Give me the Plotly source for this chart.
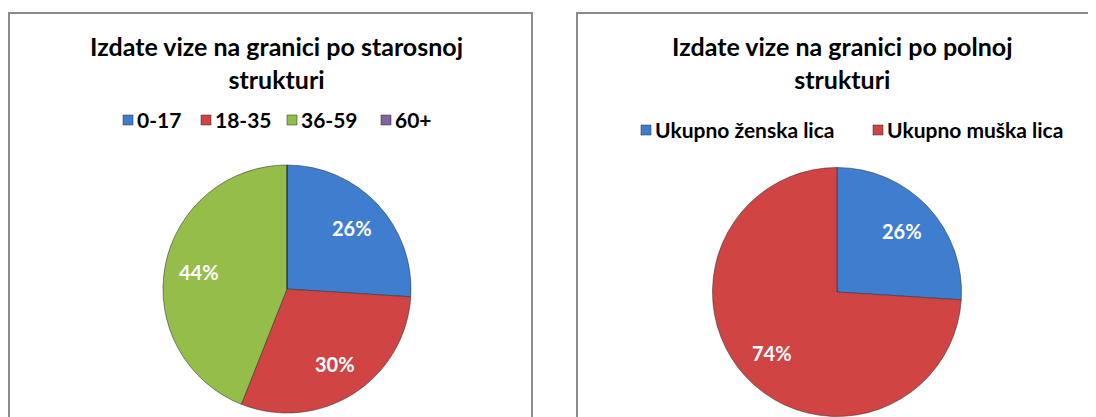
import math
import plotly.graph_objects as go

# page body has an 8px margin; compensate so that positions match the 1096x417 view
OFF = 8
W, H = 1096 - OFF, 417 - OFF

age_labels = ["0-17", "18-35", "36-59", "60+"]
age_values = [26, 30, 44, 0]
age_colors = ["#3F7ECF", "#D04444", "#94BD4A", "#8064A2"]

sex_labels = ["Ukupno ženska lica", "Ukupno muška lica"]
sex_values = [26, 74]
sex_colors = ["#3F7ECF", "#D04444"]

title_left = "Izdate vize na granici po starosnoj<br>strukturi"
title_right = "Izdate vize na granici po polnoj<br>strukturi"

FONT = "Lato, Calibri, Carlito, sans-serif"


def px(x):
    return (x - OFF) / W


def py(y):
    return 1 - (y - OFF) / H


# pie geometry (layout, in view pixels): centre x, centre y, radius
LEFT_PIE = (287, 289, 124)
RIGHT_PIE = (837, 292, 124.5)
LABEL_R = 0.72

fig = go.Figure()
annotations = []


def add_pie(labels, values, colors, geom):
    cx, cy, r = geom
    fig.add_trace(go.Pie(
        labels=labels, values=values, sort=False, direction="clockwise", rotation=0,
        marker=dict(colors=colors, line=dict(color="rgba(50,50,50,0.55)", width=1)),
        textinfo="none", showlegend=False, hoverinfo="label+percent",
        domain=dict(x=[px(cx - r), px(cx + r)], y=[py(cy + r), py(cy - r)]),
    ))
    total = sum(values)
    cum = 0
    for v in values:
        if v > 0:
            mid = (cum + v / 2) / total * 2 * math.pi
            lx = cx + LABEL_R * r * math.sin(mid)
            ly = cy - LABEL_R * r * math.cos(mid)
            annotations.append(dict(
                text=f"{round(v / total * 100)}%", x=px(lx), y=py(ly), xref="paper", yref="paper",
                showarrow=False, xanchor="center", yanchor="middle",
                font=dict(family=FONT, size=20, color="white", weight="bold")))
        cum += v


add_pie(age_labels, age_values, age_colors, LEFT_PIE)
add_pie(sex_labels, sex_values, sex_colors, RIGHT_PIE)

border = dict(color="#8C8C8C", width=2)
shapes = [
    dict(type="line", xref="paper", yref="paper", x0=px(9), x1=px(9), y0=py(13), y1=-0.1, line=border),
    dict(type="line", xref="paper", yref="paper", x0=px(8), x1=px(533), y0=py(13), y1=py(13), line=border),
    dict(type="line", xref="paper", yref="paper", x0=px(532), x1=px(532), y0=py(13), y1=-0.1, line=border),
    dict(type="line", xref="paper", yref="paper", x0=px(577), x1=px(577), y0=py(13), y1=-0.1, line=border),
    dict(type="line", xref="paper", yref="paper", x0=px(576), x1=1.05, y0=py(13), y1=py(13), line=border),
]

title_font = dict(family=FONT, size=25, color="#000000", weight="bold")
annotations += [
    dict(text=title_left, x=px(276), y=py(62), xref="paper", yref="paper", showarrow=False,
         xanchor="center", yanchor="middle", align="center", font=title_font),
    dict(text=title_right, x=px(842), y=py(62), xref="paper", yref="paper", showarrow=False,
         xanchor="center", yanchor="middle", align="center", font=title_font),
]

# legends (layout positions of the key squares, in view pixels)
legend_font = dict(family=FONT, size=21, color="#000000", weight="bold")
LEFT_LEG_X = [123, 201, 287, 381]
LEFT_LEG_Y = 120
RIGHT_LEG_X = [641, 873]
RIGHT_LEG_Y = 130
SQ = 10


def add_legend(labels, colors, xs, yc):
    for lab, col, x in zip(labels, colors, xs):
        shapes.append(dict(type="rect", xref="paper", yref="paper",
                           x0=px(x), x1=px(x + SQ), y0=py(yc + SQ / 2), y1=py(yc - SQ / 2),
                           fillcolor=col, line=dict(color="rgba(40,40,40,0.5)", width=1)))
        annotations.append(dict(text=lab, x=px(x + SQ + 2), y=py(yc), xref="paper", yref="paper",
                                showarrow=False, xanchor="left", yanchor="middle", font=legend_font))


add_legend(age_labels, age_colors, LEFT_LEG_X, LEFT_LEG_Y)
add_legend(sex_labels, sex_colors, RIGHT_LEG_X, RIGHT_LEG_Y)

fig.update_layout(
    width=W, height=H,
    margin=dict(l=0, r=0, t=0, b=0),
    paper_bgcolor="white", plot_bgcolor="white",
    shapes=shapes, annotations=annotations,
    showlegend=False,
)

fig.write_html("out.html")
